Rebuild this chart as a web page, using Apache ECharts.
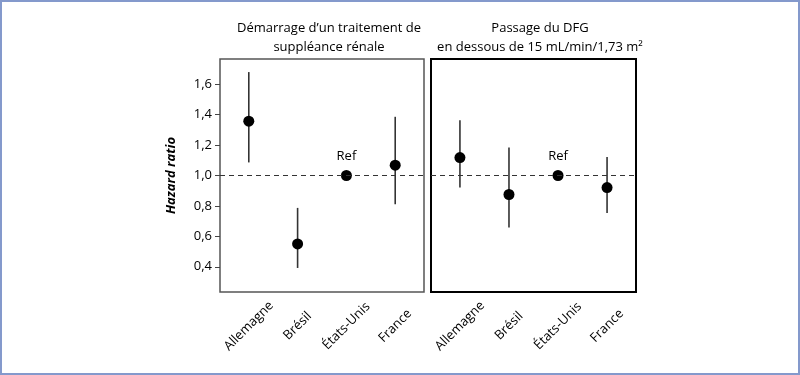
<!DOCTYPE html>
<html>
<head>
<meta charset="utf-8">
<script src="https://cdn.jsdelivr.net/npm/echarts@6/dist/echarts.min.js"></script>
<style>
  html, body { margin: 0; padding: 0; background: #fff; }
  #chart { width: 800px; height: 375px; box-sizing: border-box; border: 2px solid #8499cc; }
</style>
</head>
<body>
<div id="chart"></div>
<script>
// Hazard ratio par pays, deux critères
var categories = ['Allemagne', 'Brésil', 'États-Unis', 'France'];
var yTicks = [0.4, 0.6, 0.8, 1.0, 1.2, 1.4, 1.6];
var panelTitles = ['Démarrage d\u2019un traitement de\nsuppléance rénale',
                   'Passage du DFG\nen dessous de 15 mL/min/1,73 m\u00b2'];

var startHR = [1.357, 0.55, 1.0, 1.068];
var startLow = [1.086, 0.392, null, 0.811];
var startHigh = [1.68, 0.787, null, 1.386];

var dfgHR = [1.118, 0.875, 1.0, 0.921];
var dfgLow = [0.921, 0.658, null, 0.754];
var dfgHigh = [1.364, 1.184, null, 1.122];

var refIndex = 2;

var chart = echarts.init(document.getElementById('chart'));
var font = '"Open Sans", "Noto Sans", sans-serif';

function comma(v) {
    return v.toFixed(1).replace('.', ',');
}

function xAxis(gridIndex) {
    return {
        type: 'value',
        gridIndex: gridIndex,
        min: 0.41,
        max: 4.59,
        splitLine: { show: false },
        axisLine: { show: false },
        axisTick: { show: false },
        axisLabel: {
            customValues: [1, 2, 3, 4],
            formatter: function (v) { return categories[Math.round(v) - 1]; },
            rotate: 45,
            align: 'center',
            verticalAlign: 'middle',
            margin: 34,
            color: '#000',
            fontFamily: font,
            fontSize: 13
        }
    };
}

function yAxis(gridIndex, labels) {
    return {
        type: 'value',
        gridIndex: gridIndex,
        min: 0.234,
        max: 1.766,
        name: labels ? 'Hazard ratio' : '',
        nameLocation: 'middle',
        nameGap: 42,
        nameTextStyle: { fontFamily: font, fontSize: 13, fontWeight: 'bold', fontStyle: 'italic', color: '#000' },
        splitLine: { show: false },
        axisLine: { show: false },
        axisTick: { show: labels, customValues: yTicks, length: 5, lineStyle: { color: '#444' } },
        axisLabel: {
            show: labels,
            customValues: yTicks,
            formatter: comma,
            margin: 8,
            color: '#000',
            fontFamily: font,
            fontSize: 13
        }
    };
}

function errorSeries(idx, low, high) {
    var data = [];
    low.forEach(function (l, i) {
        if (l != null) data.push([i + 1, l, high[i]]);
    });
    return {
        type: 'custom',
        xAxisIndex: idx,
        yAxisIndex: idx,
        data: data,
        renderItem: function (params, api) {
            var a = api.coord([api.value(0), api.value(1)]);
            var b = api.coord([api.value(0), api.value(2)]);
            return {
                type: 'line',
                shape: { x1: a[0], y1: a[1], x2: b[0], y2: b[1] },
                style: { stroke: '#333', lineWidth: 1.6 }
            };
        },
        z: 2
    };
}

function pointSeries(idx, hr) {
    return {
        type: 'scatter',
        xAxisIndex: idx,
        yAxisIndex: idx,
        symbolSize: 11,
        itemStyle: { color: '#000', opacity: 1 },
        data: hr.map(function (v, i) {
            var item = { value: [i + 1, v] };
            if (i === refIndex) {
                item.label = {
                    show: true,
                    formatter: 'Ref',
                    position: 'top',
                    distance: 7,
                    color: '#000',
                    fontFamily: font,
                    fontSize: 13
                };
            }
            return item;
        }),
        markLine: {
            silent: true,
            symbol: 'none',
            label: { show: false },
            lineStyle: { color: '#333', type: [5, 4], width: 1.2 },
            data: [{ yAxis: 1.0 }]
        },
        z: 3
    };
}

var option = {
    animation: false,
    title: [
        { text: panelTitles[0], left: 322, top: 12, textAlign: 'center',
          textStyle: { fontFamily: font, fontSize: 13, fontWeight: 'normal', color: '#000', lineHeight: 19 } },
        { text: panelTitles[1], left: 533, top: 12, textAlign: 'center',
          textStyle: { fontFamily: font, fontSize: 13, fontWeight: 'normal', color: '#000', lineHeight: 19 } }
    ],
    grid: [
        { left: 218, top: 57, width: 204, height: 233, show: true, borderColor: '#555', borderWidth: 1.5, backgroundColor: 'transparent' },
        { left: 429, top: 57, width: 205, height: 233, show: true, borderColor: '#000', borderWidth: 2, backgroundColor: 'transparent' }
    ],
    xAxis: [xAxis(0), xAxis(1)],
    yAxis: [yAxis(0, true), yAxis(1, false)],
    series: [
        errorSeries(0, startLow, startHigh),
        pointSeries(0, startHR),
        errorSeries(1, dfgLow, dfgHigh),
        pointSeries(1, dfgHR)
    ]
};

chart.setOption(option);
</script>
</body>
</html>
